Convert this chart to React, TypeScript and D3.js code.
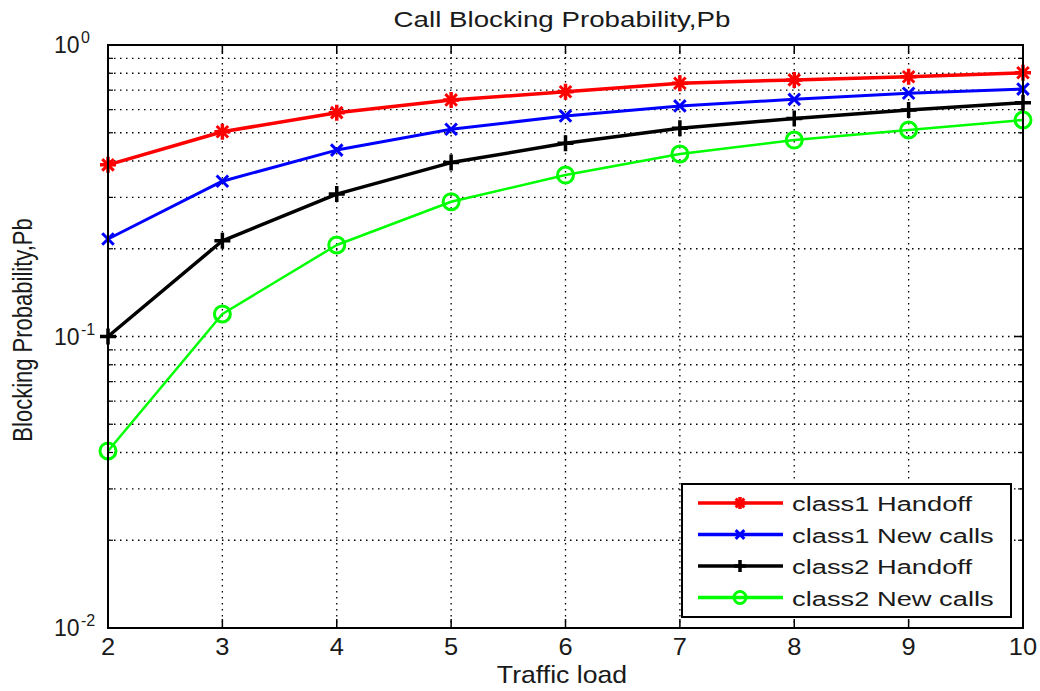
import React from "react";
import * as d3 from "d3";

const loads = [2, 3, 4, 5, 6, 7, 8, 9, 10];
const class1Handoff = [0.388, 0.504, 0.586, 0.648, 0.691, 0.739, 0.759, 0.778, 0.803];
const class1New = [0.216, 0.341, 0.436, 0.514, 0.571, 0.618, 0.651, 0.683, 0.706];
const class2Handoff = [0.1, 0.213, 0.308, 0.395, 0.46, 0.518, 0.56, 0.598, 0.634];
const class2New = [0.0405, 0.1195, 0.206, 0.29, 0.358, 0.423, 0.472, 0.511, 0.553];

const seriesList = [
  { name: "class1 Handoff", values: class1Handoff, color: "#ff0000", marker: "star", width: 3.5 },
  { name: "class1 New calls", values: class1New, color: "#0000ff", marker: "x", width: 3 },
  { name: "class2 Handoff", values: class2Handoff, color: "#000000", marker: "plus", width: 3.5 },
  { name: "class2 New calls", values: class2New, color: "#00ff00", marker: "circle", width: 2.5 },
];

const yMajor = [0.01, 0.1, 1];
const yExponents = ["-2", "-1", "0"];

const W = 1040;
const H = 691;
const m = { left: 108, right: 1023, top: 45, bottom: 628 };
const font = "'Liberation Sans', Arial, sans-serif";
const ink = "#1a1a1a";

function Marker({ kind, x, y, color, s = 8 }: { kind: string; x: number; y: number; color: string; s?: number }) {
  if (kind === "circle") return <circle cx={x} cy={y} r={s} fill="none" stroke={color} strokeWidth={3} />;
  const plus = <path d={`M${x - s},${y}H${x + s}M${x},${y - s}V${y + s}`} stroke={color} strokeWidth={3.5} />;
  const d = s * 0.72;
  const cross = <path d={`M${x - d},${y - d}L${x + d},${y + d}M${x - d},${y + d}L${x + d},${y - d}`} stroke={color} strokeWidth={3} />;
  if (kind === "plus") return plus;
  if (kind === "x") return cross;
  return (
    <g>
      {plus}
      {cross}
      <circle cx={x} cy={y} r={s * 0.4} fill={color} />
    </g>
  );
}

// text stretched horizontally, as in the source bitmap
function SText({ x, y, size, sx, anchor = "start", rotate = 0, children }: any) {
  return (
    <text
      transform={`translate(${x},${y}) scale(${sx},1) rotate(${rotate})`}
      fontFamily={font}
      fontSize={size}
      textAnchor={anchor}
      fill={ink}
    >
      {children}
    </text>
  );
}

export default function App() {
  const x = d3.scaleLinear().domain([2, 10]).range([m.left, m.right]);
  const y = d3.scaleLog().domain([0.01, 1]).range([m.bottom, m.top]);

  const minors: number[] = [];
  [0.01, 0.1].forEach((b) => {
    for (let k = 2; k <= 9; k++) minors.push(b * k);
  });

  const line = d3
    .line<number>()
    .x((_, i) => x(loads[i]))
    .y((v) => y(v));

  const dash = "1.5 4.5";

  return (
    <svg width={W} height={H} style={{ position: "absolute", left: 0, top: 0, background: "#fff" }}>
      <rect x={0} y={0} width={W} height={H} fill="#fff" />
      {/* grid */}
      {loads.slice(1, -1).map((t) => (
        <line key={"gx" + t} x1={x(t)} x2={x(t)} y1={m.top} y2={m.bottom} stroke="#000" strokeWidth={1.3} strokeDasharray={dash} />
      ))}
      {[...minors, 0.1].map((v) => (
        <line key={"gy" + v} x1={m.left} x2={m.right} y1={y(v)} y2={y(v)} stroke="#000" strokeWidth={1.3} strokeDasharray={dash} />
      ))}
      {/* ticks */}
      {loads.map((t) => (
        <g key={"tx" + t}>
          <line x1={x(t)} x2={x(t)} y1={m.bottom} y2={m.bottom - 9} stroke="#000" strokeWidth={1.5} />
          <line x1={x(t)} x2={x(t)} y1={m.top} y2={m.top + 9} stroke="#000" strokeWidth={1.5} />
          <SText x={x(t)} y={655} size={24} sx={1.06} anchor="middle">
            {t}
          </SText>
        </g>
      ))}
      {minors.map((v) => (
        <g key={"my" + v}>
          <line x1={m.left} x2={m.left + 5} y1={y(v)} y2={y(v)} stroke="#000" strokeWidth={1.2} />
          <line x1={m.right} x2={m.right - 5} y1={y(v)} y2={y(v)} stroke="#000" strokeWidth={1.2} />
        </g>
      ))}
      {yMajor.map((v, i) => (
        <g key={"ty" + v}>
          <line x1={m.left} x2={m.left + 9} y1={y(v)} y2={y(v)} stroke="#000" strokeWidth={1.5} />
          <line x1={m.right} x2={m.right - 9} y1={y(v)} y2={y(v)} stroke="#000" strokeWidth={1.5} />
          <SText x={54} y={y(v) + 8} size={24} sx={0.96}>
            10
          </SText>
          <SText x={81} y={y(v) - 2} size={16} sx={1.0}>
            {yExponents[i]}
          </SText>
        </g>
      ))}
      {/* series */}
      {seriesList.map((s) => (
        <g key={s.name}>
          <path d={line(s.values) || ""} fill="none" stroke={s.color} strokeWidth={s.width} strokeLinejoin="round" />
          {s.values.map((v, i) => (
            <Marker key={i} kind={s.marker} x={x(loads[i])} y={y(v)} color={s.color} />
          ))}
        </g>
      ))}
      {/* frame */}
      <rect x={m.left} y={m.top} width={m.right - m.left} height={m.bottom - m.top} fill="none" stroke="#000" strokeWidth={2} />
      {/* legend */}
      <rect x={682} y={484} width={329} height={133} fill="#fff" stroke="#000" strokeWidth={2} />
      {seriesList.map((s, i) => {
        const ly = 503 + i * 31.5;
        return (
          <g key={"lg" + s.name}>
            <line x1={698} x2={783} y1={ly} y2={ly} stroke={s.color} strokeWidth={3.5} />
            <Marker kind={s.marker} x={740} y={ly} color={s.color} s={6} />
            <SText x={792} y={ly + 8} size={21} sx={1.3}>
              {s.name}
            </SText>
          </g>
        );
      })}
      {/* labels */}
      <SText x={562} y={27} size={22} sx={1.26} anchor="middle">
        Call Blocking Probability,Pb
      </SText>
      <SText x={562} y={683} size={24} sx={1.11} anchor="middle">
        Traffic load
      </SText>
      <SText x={32} y={330} size={22} sx={1.25} anchor="middle" rotate={-90}>
        Blocking Probability,Pb
      </SText>
    </svg>
  );
}
